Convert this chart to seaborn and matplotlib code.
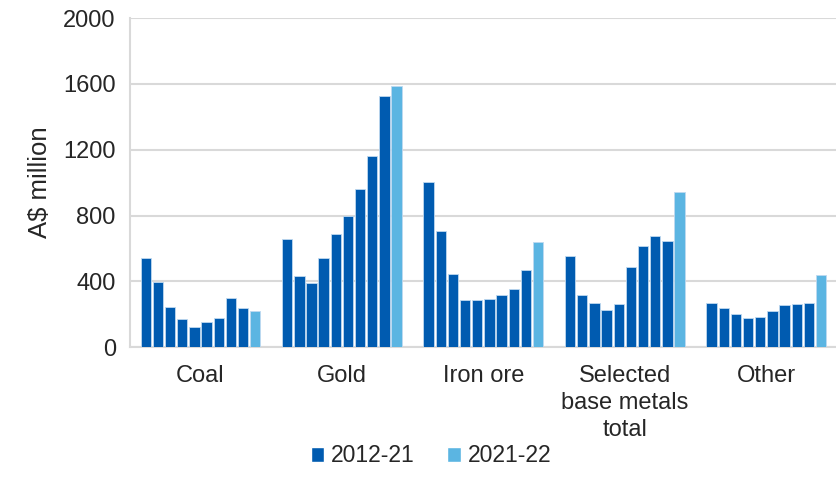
"""
Exploration expenditure by commodity, 2012-13 to 2021-22
"""

import numpy as np
import pandas as pd
import matplotlib.pyplot as plt
import seaborn as sns
from matplotlib.patches import Patch

categories = ["Coal", "Gold", "Iron ore", "Selected\nbase metals\ntotal", "Other"]
years = ["2012-13", "2013-14", "2014-15", "2015-16", "2016-17",
         "2017-18", "2018-19", "2019-20", "2020-21", "2021-22"]

# A$ million, one list per commodity
coal = [540, 395, 245, 170, 120, 150, 175, 300, 235, 220]
gold = [655, 430, 390, 540, 685, 800, 960, 1160, 1525, 1590]
iron_ore = [1005, 705, 445, 285, 285, 290, 320, 355, 470, 640]
base_metals = [555, 315, 270, 225, 265, 490, 615, 675, 645, 945]
other = [270, 235, 200, 175, 185, 220, 255, 265, 270, 440]

dark = "#005BB0"
light = "#5BB5E2"

rows = []
for cat, vals in zip(categories, [coal, gold, iron_ore, base_metals, other]):
    for yr, v in zip(years, vals):
        rows.append({"category": cat, "year": yr, "value": v})
df = pd.DataFrame(rows)

palette = {yr: (light if yr == "2021-22" else dark) for yr in years}

sns.set_style("white")
plt.rcParams["font.family"] = ["Liberation Sans", "DejaVu Sans"]

fig = plt.figure(figsize=(8.37, 4.91), dpi=100)
ax = fig.add_axes([0.155, 0.293, 0.845, 0.670])

sns.barplot(
    data=df, x="category", y="value", hue="year", palette=palette,
    saturation=1, width=0.86, gap=0.15, edgecolor="#BFD9F0", linewidth=0.6,
    legend=False, ax=ax, zorder=3,
)

ax.set_ylim(0, 2000)
ax.set_yticks(np.arange(0, 2001, 400))
ax.set_xlim(-0.5, len(categories) - 0.5)
ax.yaxis.grid(True, color="#D9D9D9", linewidth=1.5, zorder=0)
ax.set_axisbelow(True)

ax.tick_params(axis="y", length=0, labelsize=17, pad=10)
ax.tick_params(axis="x", which="major", length=0, labelsize=17, pad=13)
for lbl in ax.get_xticklabels():
    lbl.set_linespacing(1.3)
ax.set_xticks(np.arange(-0.5, len(categories)), minor=True)
ax.tick_params(axis="x", which="minor", length=8, width=1.5, color="#D9D9D9")

for side in ["top", "right"]:
    ax.spines[side].set_visible(False)
for side in ["left", "bottom"]:
    ax.spines[side].set_color("#D9D9D9")
    ax.spines[side].set_linewidth(1.5)

ax.set_xlabel("")
ax.set_ylabel("A$ million", fontsize=18.5, labelpad=8)

handles = [Patch(facecolor=dark, label="2012-21"), Patch(facecolor=light, label="2021-22")]
fig.legend(
    handles=handles, loc="center", bbox_to_anchor=(431 / 837, 1 - 456 / 491),
    ncol=2, frameon=False, fontsize=16.5, handlelength=0.6, handleheight=0.6,
    handletextpad=0.3, columnspacing=1.4,
)

fig.savefig("out.png", dpi=100)
